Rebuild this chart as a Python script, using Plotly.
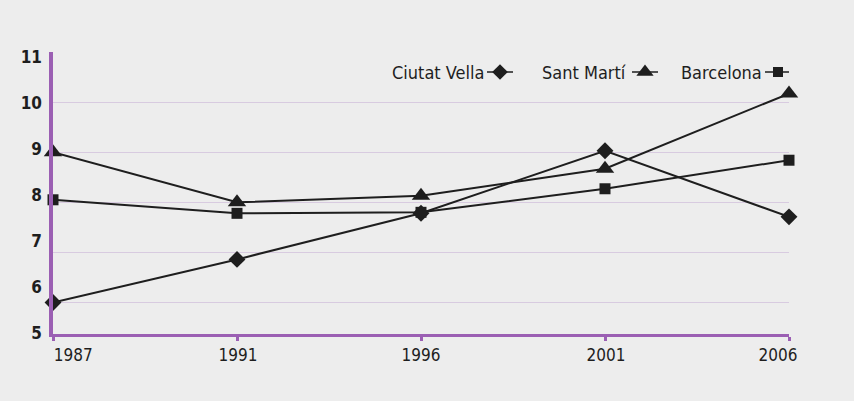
import plotly.graph_objects as go

years = ["1987", "1991", "1996", "2001", "2006"]
ciutat_vella = [6.0, 6.86, 7.78, 9.03, 7.71]
sant_marti = [9.0, 8.0, 8.13, 8.67, 10.17]
barcelona = [8.05, 7.78, 7.80, 8.27, 8.84]
y_ticks = [5, 6, 7, 8, 9, 10, 11]
series_names = ["Ciutat Vella", "Sant Martí", "Barcelona"]
symbols = ["diamond", "triangle-up", "square"]
sizes = [13, 16, 11]

PURPLE = "#9b5fb3"
GRID = "#d8cbe0"
BG = "#ededed"
INK = "#1e1e1e"
FONT = "Liberation Sans Narrow, DejaVu Sans Condensed, Arial Narrow, sans-serif"

W, H = 854, 401
L, R, T, B = 53, 65, 52, 67
plot_w = W - L - R
plot_h = H - T - B

idx = list(range(len(years)))

fig = go.Figure()
for name, vals, sym, sz in zip(series_names, [ciutat_vella, sant_marti, barcelona], symbols, sizes):
    fig.add_trace(go.Scatter(
        x=idx, y=vals, mode="lines+markers", name=name,
        line=dict(color=INK, width=2),
        marker=dict(symbol=sym, size=sz, color=INK),
        cliponaxis=False, showlegend=False,
    ))

# custom legend keys (text before symbol), in pixel-space overlay axes
legend_text_right = [486, 628, 764]
legend_marker_x = [500, 645, 778]
legend_y = 72
for name, sym, sz, tx, mx in zip(series_names, symbols, sizes, legend_text_right, legend_marker_x):
    fig.add_trace(go.Scatter(
        x=[mx - 13, mx + 13], y=[legend_y, legend_y],
        mode="lines", xaxis="x3", yaxis="y3",
        line=dict(color=INK, width=1.5),
        showlegend=False, hoverinfo="skip", cliponaxis=False,
    ))
    fig.add_trace(go.Scatter(
        x=[mx], y=[legend_y],
        mode="markers", xaxis="x3", yaxis="y3",
        marker=dict(symbol=sym, size=sz - 1, color=INK),
        showlegend=False, hoverinfo="skip", cliponaxis=False,
    ))
    fig.add_annotation(x=tx, y=legend_y, xref="x3", yref="y3", text=name,
                       showarrow=False, xanchor="right", yanchor="middle",
                       font=dict(family=FONT, size=18, color=INK))

# data y range: gridline 11 at top, 50.1 px per unit
y_top = 11
y_bottom = 11 - plot_h / 50.1
# label axis: 5 at bottom, 46.1 px per unit
lab_bottom = 5 - 0.7 / 46.1
lab_top = lab_bottom + plot_h / 46.1

fig.update_layout(
    width=W, height=H,
    margin=dict(l=L, r=R, t=T, b=B),
    paper_bgcolor=BG, plot_bgcolor=BG,
    xaxis=dict(range=[0, len(years) - 1], tickvals=idx, ticktext=[""] * len(years),
               showgrid=False, zeroline=False, showline=True, linecolor=PURPLE, linewidth=3,
               ticks="outside", ticklen=4, tickwidth=3, tickcolor=PURPLE, fixedrange=True),
    xaxis2=dict(range=[0, len(years) - 1], overlaying="x", side="bottom",
                tickvals=[0.11, 1.005, 2.0, 3.005, 3.94], ticktext=years,
                showgrid=False, zeroline=False, showline=False, ticks="",
                tickfont=dict(family=FONT, size=17, color=INK), ticklabelstandoff=9),
    yaxis=dict(range=[y_bottom, y_top], tickvals=y_ticks[1:], showticklabels=False,
               showgrid=True, gridcolor=GRID, gridwidth=1, zeroline=False,
               showline=True, linecolor=PURPLE, linewidth=3.5, ticks=""),
    yaxis2=dict(range=[lab_bottom, lab_top], overlaying="y", side="left",
                tickvals=y_ticks, ticktext=[str(v) for v in y_ticks],
                showgrid=False, zeroline=False, showline=False, ticks="",
                tickfont=dict(family=FONT, size=17, color=INK, weight="bold"),
                ticklabelstandoff=10),
    xaxis3=dict(range=[L, W - R], overlaying="x", visible=False),
    yaxis3=dict(range=[T + plot_h, T], overlaying="y", visible=False),
)
# invisible anchors for overlay axes
fig.add_trace(go.Scatter(x=[0], y=[lab_bottom], xaxis="x2", yaxis="y2", mode="markers",
                         marker=dict(opacity=0), showlegend=False, hoverinfo="skip"))

fig.write_html("out.html", config={"displayModeBar": False},
               post_script="document.body.style.margin='0';")
